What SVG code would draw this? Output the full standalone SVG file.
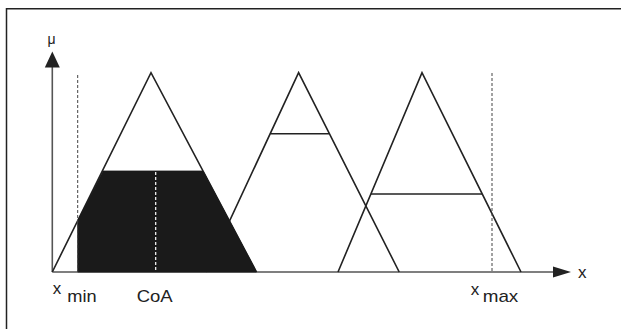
<svg xmlns="http://www.w3.org/2000/svg" width="621" height="329" viewBox="0 0 621 329">
<style>
.ln{fill:none;stroke:#222;stroke-width:1.6;stroke-linejoin:miter}
.ax{fill:none;stroke:#555;stroke-width:1.6}
.dash{fill:none;stroke:#444;stroke-width:1;stroke-dasharray:3 2}
.wdash{fill:none;stroke:#fff;stroke-width:1.2;stroke-dasharray:3 2}
.t{font-family:"Liberation Sans",Arial,sans-serif;fill:#222;font-size:17px}
</style>
<rect width="621" height="329" fill="#fff"/>
<path d="M6.5 329 V8.7 H621" fill="none" stroke="#222" stroke-width="1.5"/>
<g id="axes">
<line class="ax" x1="52.3" y1="272" x2="52.3" y2="64"/>
<polygon points="52.3,51.5 44.8,67.5 59.8,67.5" fill="#222"/>
<line class="ax" x1="52.3" y1="272" x2="556" y2="272"/>
<polygon points="571,272 553,266.5 553,277.5" fill="#222"/>
</g>
<g id="triangles">
<polyline class="ln" points="52.3,272 151,72.7 256.5,272"/>
<polyline class="ln" points="205.8,272 298.6,72.7 399.2,272"/>
<line class="ln" x1="270.4" y1="133.7" x2="329" y2="133.7"/>
<polyline class="ln" points="338,272 422,72.7 521,272"/>
<line class="ln" x1="371" y1="194" x2="482" y2="194"/>
</g>
<g id="shaded">
<polygon points="77.7,272 77.7,220.7 103,171 203,171 256.5,272" fill="#1a1a1a" stroke="#1a1a1a" stroke-width="0.8"/>
<line class="wdash" x1="155.7" y1="172" x2="155.7" y2="272"/>
</g>
<g id="limits">
<line class="dash" x1="77.7" y1="75" x2="77.7" y2="272"/>
<line class="dash" x1="492" y1="73" x2="492" y2="272"/>
</g>
<g id="labels">
<text class="t" x="51.5" y="44" text-anchor="middle" style="font-size:14px">μ</text>
<text class="t" x="578" y="278">x</text>
<text class="t" x="52.7" y="294">x</text>
<text class="t" x="67.3" y="301.7" textLength="29.4" lengthAdjust="spacingAndGlyphs">min</text>
<text class="t" x="136.7" y="301.7" textLength="36" lengthAdjust="spacingAndGlyphs">CoA</text>
<text class="t" x="470.7" y="295">x</text>
<text class="t" x="482.7" y="301.7" textLength="35.6" lengthAdjust="spacingAndGlyphs">max</text>
</g>
</svg>
